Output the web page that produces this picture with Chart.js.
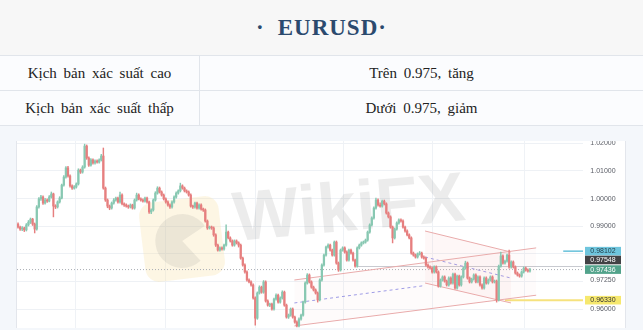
<!DOCTYPE html>
<html lang="vi">
<head>
<meta charset="utf-8">
<title>EURUSD</title>
<script src="https://cdn.jsdelivr.net/npm/chart.js@4.4.0/dist/chart.umd.min.js"></script>
<style>
    html, body { margin: 0; padding: 0; }
    body {
        width: 643px; height: 330px; overflow: hidden; position: relative;
        background: #fff; font-family: "Liberation Serif", "Times New Roman", serif;
    }
    .head {
        height: 56px; box-sizing: border-box; background: #f7f7f7;
        border-bottom: 1px solid #e1e5eb; text-align: center; line-height: 55px;
        color: #2b4a6e; font-weight: bold; font-size: 23px; letter-spacing: 1px;
    }
    .head .dot { margin-right: 13px; }
    .row { display: flex; height: 35px; box-sizing: border-box; border-bottom: 1px solid #e1e5eb; background: #fbfcfe; }
    .cell { display: flex; align-items: center; justify-content: center; font-size: 15px; color: #222; word-spacing: 3px; }
    .c1 { width: 200px; box-sizing: border-box; border-right: 1px solid #e1e5eb; }
    .c2 { flex: 1; }
    .chartbox { position: absolute; left: 0; top: 126px; width: 643px; height: 204px; background: #f4f7fb; }
    .panel {
        position: absolute; left: 16px; top: 15px; width: 608px; height: 187px; background: #fff;
        border-left: 1px solid #e3e6ec; border-right: 1px solid #e3e6ec;
    }
    canvas { display: block; }
</style>
</head>
<body>
<div class="head"><span class="dot">·</span>EURUSD·</div>
<div class="row"><div class="cell c1">Kịch bản xác suất cao</div><div class="cell c2">Trên 0.975, tăng</div></div>
<div class="row"><div class="cell c1">Kịch bản xác suất thấp</div><div class="cell c2">Dưới 0.975, giảm</div></div>
<div class="chartbox">
    <div class="panel"><canvas id="chart" width="608" height="187"></canvas></div>
</div>
<script>
// giá mở của cây nến đầu tiên, các cây sau mở tại giá đóng trước đó
const firstOpen = 0.9908;
const closes = [
    0.9897, 0.9890, 0.9894, 0.9887, 0.9905, 0.9915, 0.9926, 0.9908, 0.9890, 0.9970,
    0.9999, 1.0006, 0.9984, 0.9995, 0.9991, 1.0006, 1.0017, 0.9973, 0.9970, 0.9988,
    1.0002, 1.0049, 1.0078, 1.0111, 1.0082, 1.0046, 1.0038, 1.0042, 1.0053, 1.0103,
    1.0096, 1.0114, 1.0190, 1.0147, 1.0121, 1.0140, 1.0129, 1.0136, 1.0132, 1.0140,
    1.0154, 1.0038, 0.9995, 0.9973, 0.9966, 0.9984, 0.9995, 1.0002, 0.9988, 1.0013,
    0.9981, 0.9977, 0.9973, 0.9970, 0.9977, 0.9966, 0.9995, 1.0013, 0.9999, 0.9995,
    0.9991, 1.0002, 0.9988, 0.9952, 0.9959, 0.9995, 1.0020, 1.0038, 1.0024, 1.0013,
    0.9999, 0.9988, 0.9977, 0.9970, 0.9988, 1.0006, 1.0020, 1.0028, 1.0046, 1.0038,
    1.0028, 1.0024, 1.0013, 0.9973, 0.9970, 0.9984, 0.9966, 0.9977, 0.9962, 0.9959,
    0.9919, 0.9894, 0.9897, 0.9894, 0.9869, 0.9832, 0.9814, 0.9822, 0.9818, 0.9832,
    0.9879, 0.9858, 0.9847, 0.9832, 0.9847, 0.9840, 0.9832, 0.9785, 0.9760, 0.9735,
    0.9706, 0.9699, 0.9688, 0.9641, 0.9568, 0.9659, 0.9680, 0.9662, 0.9699, 0.9630,
    0.9615, 0.9619, 0.9601, 0.9637, 0.9651, 0.9626, 0.9641, 0.9662, 0.9615, 0.9572,
    0.9579, 0.9601, 0.9572, 0.9554, 0.9540, 0.9565, 0.9579, 0.9626, 0.9695, 0.9724,
    0.9699, 0.9680, 0.9670, 0.9659, 0.9634, 0.9706, 0.9760, 0.9796, 0.9825, 0.9832,
    0.9814, 0.9796, 0.9843, 0.9767, 0.9742, 0.9814, 0.9822, 0.9807, 0.9778, 0.9814,
    0.9803, 0.9778, 0.9756, 0.9822, 0.9832, 0.9840, 0.9843, 0.9850, 0.9879, 0.9905,
    0.9930, 0.9966, 0.9995, 0.9977, 0.9973, 0.9991, 0.9981, 0.9948, 0.9934, 0.9897,
    0.9858, 0.9890, 0.9912, 0.9923, 0.9919, 0.9897, 0.9883, 0.9869, 0.9858, 0.9803,
    0.9796, 0.9789, 0.9800, 0.9803, 0.9789, 0.9785, 0.9760, 0.9753, 0.9749, 0.9735,
    0.9753, 0.9735, 0.9684, 0.9706, 0.9717, 0.9702, 0.9688, 0.9713, 0.9695, 0.9727,
    0.9677, 0.9720, 0.9688, 0.9717, 0.9749, 0.9767, 0.9713, 0.9699, 0.9709, 0.9724,
    0.9699, 0.9717, 0.9688, 0.9677, 0.9713, 0.9695, 0.9706, 0.9717, 0.9699, 0.9702,
    0.9634, 0.9756, 0.9793, 0.9767, 0.9774, 0.9796, 0.9753, 0.9771, 0.9753, 0.9731,
    0.9724, 0.9720, 0.9735, 0.9749, 0.9742, 0.9738, 0.97436
];
const highs = [
    0.9913, 0.9901, 0.9899, 0.9897, 0.9910, 0.9921, 0.9930, 0.9929, 0.9912, 0.9975,
    1.0004, 1.0012, 1.0010, 1.0001, 0.9999, 1.0011, 1.0024, 1.0020, 0.9978, 0.9992,
    1.0007, 1.0053, 1.0083, 1.0116, 1.0117, 1.0086, 1.0050, 1.0047, 1.0057, 1.0108,
    1.0107, 1.0119, 1.0197, 1.0194, 1.0151, 1.0145, 1.0144, 1.0140, 1.0140, 1.0144,
    1.0160, 1.0183, 1.0042, 0.9999, 0.9977, 0.9988, 1.0000, 1.0006, 1.0006, 1.0024,
    1.0017, 0.9985, 0.9981, 0.9977, 0.9981, 0.9980, 0.9999, 1.0020, 1.0017, 1.0003,
    0.9999, 1.0006, 1.0006, 0.9991, 0.9963, 0.9999, 1.0025, 1.0043, 1.0042, 1.0028,
    1.0017, 1.0003, 0.9992, 0.9981, 0.9992, 1.0010, 1.0025, 1.0032, 1.0056, 1.0050,
    1.0042, 1.0032, 1.0028, 1.0017, 0.9977, 0.9988, 0.9988, 0.9981, 0.9981, 0.9966,
    0.9963, 0.9923, 0.9901, 0.9901, 0.9898, 0.9873, 0.9836, 0.9826, 0.9826, 0.9836,
    0.9905, 0.9883, 0.9862, 0.9851, 0.9851, 0.9851, 0.9844, 0.9836, 0.9789, 0.9764,
    0.9739, 0.9710, 0.9703, 0.9692, 0.9645, 0.9663, 0.9685, 0.9684, 0.9704, 0.9703,
    0.9634, 0.9623, 0.9623, 0.9641, 0.9656, 0.9655, 0.9645, 0.9667, 0.9666, 0.9619,
    0.9583, 0.9605, 0.9605, 0.9576, 0.9558, 0.9569, 0.9583, 0.9630, 0.9699, 0.9729,
    0.9728, 0.9703, 0.9684, 0.9674, 0.9663, 0.9710, 0.9764, 0.9800, 0.9829, 0.9837,
    0.9836, 0.9818, 0.9847, 0.9847, 0.9771, 0.9818, 0.9826, 0.9826, 0.9811, 0.9818,
    0.9818, 0.9807, 0.9782, 0.9826, 0.9836, 0.9844, 0.9847, 0.9854, 0.9883, 0.9909,
    0.9934, 0.9970, 1.0002, 0.9999, 0.9985, 0.9995, 0.9995, 0.9985, 0.9952, 0.9938,
    0.9901, 0.9894, 0.9916, 0.9927, 0.9927, 0.9923, 0.9901, 0.9887, 0.9873, 0.9862,
    0.9807, 0.9800, 0.9804, 0.9809, 0.9807, 0.9793, 0.9789, 0.9764, 0.9757, 0.9753,
    0.9757, 0.9757, 0.9739, 0.9710, 0.9721, 0.9721, 0.9706, 0.9717, 0.9717, 0.9731,
    0.9731, 0.9724, 0.9724, 0.9721, 0.9753, 0.9774, 0.9771, 0.9717, 0.9713, 0.9728,
    0.9728, 0.9721, 0.9721, 0.9692, 0.9717, 0.9717, 0.9710, 0.9721, 0.9721, 0.9706,
    0.9706, 0.9760, 0.9807, 0.9797, 0.9778, 0.9800, 0.9814, 0.9775, 0.9775, 0.9757,
    0.9735, 0.9728, 0.9739, 0.9753, 0.9753, 0.9746, 0.9748
];
const lows = [
    0.9893, 0.9885, 0.9884, 0.9881, 0.9883, 0.9901, 0.9910, 0.9903, 0.9876, 0.9886,
    0.9966, 0.9994, 0.9979, 0.9980, 0.9986, 0.9988, 1.0002, 0.9934, 0.9964, 0.9966,
    0.9984, 0.9999, 1.0045, 1.0074, 1.0078, 1.0041, 1.0033, 1.0034, 1.0038, 1.0049,
    1.0091, 1.0092, 1.0110, 1.0142, 1.0116, 1.0117, 1.0125, 1.0125, 1.0128, 1.0128,
    1.0136, 1.0034, 0.9990, 0.9967, 0.9960, 0.9962, 0.9980, 0.9991, 0.9984, 0.9984,
    0.9977, 0.9972, 0.9969, 0.9965, 0.9966, 0.9962, 0.9962, 0.9991, 0.9995, 0.9991,
    0.9987, 0.9987, 0.9984, 0.9947, 0.9946, 0.9955, 0.9991, 1.0016, 1.0020, 1.0009,
    0.9995, 0.9984, 0.9973, 0.9965, 0.9966, 0.9984, 1.0002, 1.0016, 1.0024, 1.0034,
    1.0024, 1.0020, 1.0009, 0.9969, 0.9965, 0.9966, 0.9962, 0.9962, 0.9958, 0.9954,
    0.9915, 0.9889, 0.9890, 0.9889, 0.9864, 0.9827, 0.9810, 0.9810, 0.9814, 0.9814,
    0.9828, 0.9854, 0.9843, 0.9828, 0.9828, 0.9836, 0.9825, 0.9781, 0.9756, 0.9731,
    0.9702, 0.9695, 0.9684, 0.9637, 0.9543, 0.9564, 0.9655, 0.9658, 0.9658, 0.9626,
    0.9611, 0.9610, 0.9597, 0.9597, 0.9633, 0.9622, 0.9622, 0.9637, 0.9611, 0.9568,
    0.9567, 0.9575, 0.9568, 0.9550, 0.9536, 0.9536, 0.9561, 0.9575, 0.9622, 0.9691,
    0.9695, 0.9676, 0.9666, 0.9655, 0.9626, 0.9630, 0.9702, 0.9756, 0.9792, 0.9821,
    0.9810, 0.9792, 0.9792, 0.9763, 0.9737, 0.9738, 0.9810, 0.9803, 0.9774, 0.9774,
    0.9799, 0.9774, 0.9752, 0.9752, 0.9818, 0.9828, 0.9836, 0.9839, 0.9846, 0.9875,
    0.9901, 0.9926, 0.9962, 0.9973, 0.9969, 0.9969, 0.9977, 0.9944, 0.9930, 0.9893,
    0.9840, 0.9854, 0.9886, 0.9908, 0.9915, 0.9893, 0.9879, 0.9865, 0.9854, 0.9799,
    0.9792, 0.9785, 0.9785, 0.9796, 0.9785, 0.9781, 0.9756, 0.9749, 0.9745, 0.9731,
    0.9731, 0.9731, 0.9680, 0.9680, 0.9702, 0.9698, 0.9684, 0.9684, 0.9691, 0.9691,
    0.9673, 0.9673, 0.9684, 0.9684, 0.9713, 0.9745, 0.9709, 0.9695, 0.9695, 0.9705,
    0.9695, 0.9695, 0.9684, 0.9673, 0.9673, 0.9691, 0.9691, 0.9702, 0.9695, 0.9695,
    0.9626, 0.9630, 0.9752, 0.9763, 0.9763, 0.9770, 0.9749, 0.9749, 0.9749, 0.9727,
    0.9720, 0.9716, 0.9716, 0.9731, 0.9738, 0.9734, 0.9734
];

// trục giá bên phải
const axisLabels = [1.02, 1.01, 1.00, 0.99, 0.9725, 0.96];
const gridPrices = [0.96, 0.97, 0.98, 0.99, 1.00, 1.01, 1.02];
const gridBars = [27.4, 71.1, 113.9, 156.2, 199.4, 243.6];
const boxPrices = [0.98102, 0.97548, 0.97436, 0.96330];
const boxFill = ['#6fc5dd', '#424245', '#52a38b', '#f6e86e'];
const boxInk = ['#1f3a44', '#ffffff', '#ffffff', '#333333'];

// hình vẽ trên biểu đồ (vị trí nến, giá)
const riseTopX = [132.8, 249], riseTopY = [0.9706, 0.9822];
const riseLowX = [132.8, 249], riseLowY = [0.9540, 0.9651];
const riseMidX = [132.8, 195.6], riseMidY = [0.9623, 0.9686];
const fallTopX = [195.6, 236.9], fallTopY = [0.9883, 0.9807];
const fallLowX = [195.6, 236.9], fallLowY = [0.9695, 0.9623];
const fallMidX = [195.6, 236.9], fallMidY = [0.9789, 0.9713];
const lastPrice = 0.97436;
const levelGray = 0.97548, levelGrayFrom = 162.9;
const levelYellow = 0.96330, levelYellowFrom = 234;
const levelCyan = 0.98102, levelCyanFrom = 262;

const X_MIN = -0.5, X_MAX = 271.5;
const UP = '#88c8b2', DOWN = '#e67f7f';

const opens = closes.map((c, i) => (i === 0 ? firstOpen : closes[i - 1]));
const candleColor = closes.map((c, i) => (c >= opens[i] ? UP : DOWN));

function seg(xs, ys, color, width, dash, extra) {
    return Object.assign({
        type: 'line',
        data: xs.map((x, i) => ({ x: x, y: ys[i] })),
        borderColor: color, borderWidth: width, borderDash: dash || [],
        pointRadius: 0, fill: false, tension: 0, order: 3
    }, extra || {});
}

function roundRect(ctx, x, y, w, h, r) {
    ctx.beginPath();
    ctx.moveTo(x + r, y);
    ctx.arcTo(x + w, y, x + w, y + h, r);
    ctx.arcTo(x + w, y + h, x, y + h, r);
    ctx.arcTo(x, y + h, x, y, r);
    ctx.arcTo(x, y, x + w, y, r);
    ctx.closePath();
}

const watermark = {
    id: 'watermark',
    beforeDatasetsDraw(chart) {
        const ctx = chart.ctx;
        ctx.save();
        ctx.translate(165, 98);
        ctx.rotate(-0.12);
        ctx.fillStyle = 'rgba(250, 225, 165, 0.3)';
        roundRect(ctx, -40, -40, 80, 80, 14);
        ctx.fill();
        ctx.fillStyle = 'rgba(120, 120, 120, 0.13)';
        ctx.beginPath();
        ctx.moveTo(0, 2);
        ctx.arc(0, 2, 27, 0.3 * Math.PI, 1.85 * Math.PI);
        ctx.closePath();
        ctx.fill();
        ctx.restore();

        ctx.save();
        ctx.translate(218, 100);
        ctx.rotate(-0.09);
        ctx.font = 'bold 70px "Liberation Sans", Arial, sans-serif';
        ctx.fillStyle = 'rgba(0, 0, 0, 0.075)';
        ctx.fillText('WikiFX', 0, 0);
        ctx.restore();
    }
};

const priceAxis = {
    id: 'priceAxis',
    afterDraw(chart) {
        const ctx = chart.ctx;
        const area = chart.chartArea;
        const y = chart.scales.y;
        ctx.save();
        ctx.font = '7px "Liberation Sans", Arial, sans-serif';
        ctx.textAlign = 'center';
        ctx.textBaseline = 'middle';
        ctx.fillStyle = '#5a5d66';
        axisLabels.forEach((v) => {
            const nudge = v === 0.9725 ? 5 : 0;
            ctx.fillText(v.toFixed(5), area.right + 20, y.getPixelForValue(v) + nudge);
        });
        boxPrices.forEach((v, i) => {
            const nudge = v === levelGray ? -6.5 : 0;
            const py = y.getPixelForValue(v) + nudge;
            ctx.fillStyle = boxFill[i];
            ctx.fillRect(area.right + 2, py - 4.3, 36, 8.6);
            ctx.fillStyle = boxInk[i];
            ctx.fillText(v.toFixed(5), area.right + 20, py + 0.3);
        });
        ctx.restore();
    }
};

new Chart(document.getElementById('chart'), {
    type: 'bar',
    data: {
        datasets: [
            {
                type: 'bar', label: 'body',
                data: closes.map((c, i) => ({ x: i, y: [opens[i], c] })),
                backgroundColor: candleColor, barThickness: 1.6, minBarLength: 1,
                grouped: false, order: 0
            },
            {
                type: 'bar', label: 'wick',
                data: closes.map((c, i) => ({ x: i, y: [lows[i], highs[i]] })),
                backgroundColor: candleColor, barThickness: 0.8,
                grouped: false, order: 1
            },
            seg(riseTopX, riseTopY, '#e9abab', 1, null, { fill: '+1', backgroundColor: 'rgba(240, 170, 170, 0.05)' }),
            seg(riseLowX, riseLowY, '#e9abab', 1),
            seg(riseMidX, riseMidY, '#9a9ae8', 1, [3, 3]),
            seg(fallTopX, fallTopY, '#e9abab', 1, null, { fill: '+1', backgroundColor: 'rgba(240, 165, 165, 0.09)' }),
            seg(fallLowX, fallLowY, '#e9abab', 1),
            seg(fallMidX, fallMidY, '#9a9ae8', 1, [3, 3]),
            seg([X_MIN, X_MAX], [lastPrice, lastPrice], '#a9adb4', 1, [1, 2]),
            seg([levelGrayFrom, X_MAX], [levelGray, levelGray], '#c8cad0', 1),
            seg([levelYellowFrom, X_MAX], [levelYellow, levelYellow], '#f6e27e', 2),
            seg([levelCyanFrom, X_MAX], [levelCyan, levelCyan], '#66c0da', 1.5)
        ]
    },
    options: {
        responsive: false,
        devicePixelRatio: 1,
        animation: false,
        layout: { padding: 0 },
        plugins: { legend: { display: false }, tooltip: { enabled: false } },
        scales: {
            x: {
                type: 'linear', min: X_MIN, max: X_MAX, offset: false,
                grid: { color: '#eff2f6', drawTicks: false, offset: false },
                border: { display: false },
                ticks: { display: false },
                afterBuildTicks: (scale) => { scale.ticks = gridBars.map((v) => ({ value: v })); },
                afterFit: (scale) => { scale.height = 0; }
            },
            y: {
                type: 'linear', position: 'right', min: 0.95325, max: 1.02083,
                grid: { color: '#eef1f5', drawTicks: false },
                border: { display: false },
                ticks: { display: false },
                afterBuildTicks: (scale) => { scale.ticks = gridPrices.map((v) => ({ value: v })); },
                afterFit: (scale) => { scale.width = 42; }
            }
        }
    },
    plugins: [watermark, priceAxis]
});
</script>
</body>
</html>
